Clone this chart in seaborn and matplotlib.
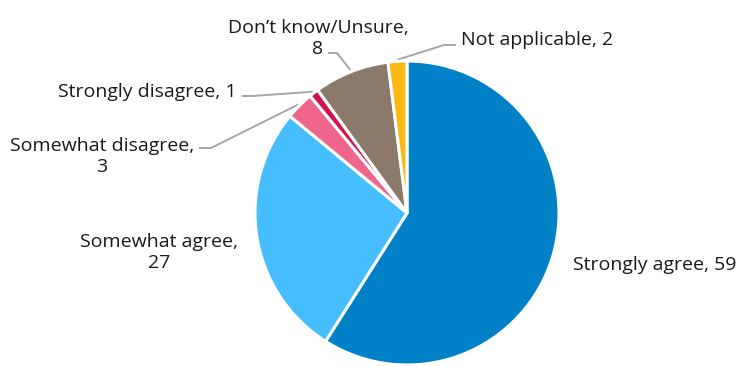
import numpy as np
import matplotlib
matplotlib.use("Agg")
import matplotlib.pyplot as plt
import seaborn as sns

# Survey responses (percent), clockwise from 12 o'clock
categories = ["Strongly agree", "Somewhat agree", "Somewhat disagree",
              "Strongly disagree", "Don\u2019t know/Unsure", "Not applicable"]
values = [59, 27, 3, 1, 8, 2]
label_texts = ["Strongly agree, 59", "Somewhat agree,\n27", "Somewhat disagree,\n3",
               "Strongly disagree, 1", "Don\u2019t know/Unsure,\n8", "Not applicable, 2"]
colors = ["#0080C6", "#46BDFF", "#F0658C", "#D2124A", "#8B7A69", "#FDB913"]

sns.set_theme(style="white")
plt.rcParams["font.family"] = ["Open Sans", "DejaVu Sans"]

W, H = 742, 366
fig = plt.figure(figsize=(W / 100, H / 100), dpi=100)
ax = fig.add_axes([0, 0, 1, 1])

cx, cy, R = 407, H - 213, 152
palette = sns.color_palette(colors)
wedges, _ = ax.pie(values, colors=palette, startangle=90, counterclock=False,
                   center=(cx, cy), radius=R, frame=True,
                   wedgeprops=dict(edgecolor="white", linewidth=2.2))
ax.set_xlim(0, W)
ax.set_ylim(0, H)
ax.axis("off")

def py(y):
    return H - y

txt_kw = dict(fontsize=14, color="#1a1a1a", linespacing=1.2, multialignment="center")

# label anchors (x, baseline of last line) in pixel space, and alignment
label_pos = [
    (573, 270, "left"),
    (159, 268, "center"),
    (102, 172, "center"),
    (58, 97, "left"),
    (318, 54, "center"),
    (461, 45, "left"),
]
for (x, y, ha), t in zip(label_pos, label_texts):
    ax.text(x, py(y), t, ha=ha, va="baseline", **txt_kw)

# leader lines: text-side points, then the wedge edge at its mid-angle
leaders = {
    2: [(199, 148), (211, 148)],
    3: [(242, 96), (253, 96)],
    4: [(328, 53), (337, 53)],
    5: [(456, 45), (444, 45)],
}
for i, pts in leaders.items():
    w = wedges[i]
    ang = np.deg2rad((w.theta1 + w.theta2) / 2)
    ex, ey = cx + R * 1.01 * np.cos(ang), cy + R * 1.01 * np.sin(ang)
    xs = [p[0] for p in pts] + [ex]
    ys = [py(p[1]) for p in pts] + [ey]
    ax.plot(xs, ys, color="#A6A6A6", lw=1.4, solid_capstyle="butt", zorder=0)

fig.savefig("out.png", dpi=100, facecolor="white")
